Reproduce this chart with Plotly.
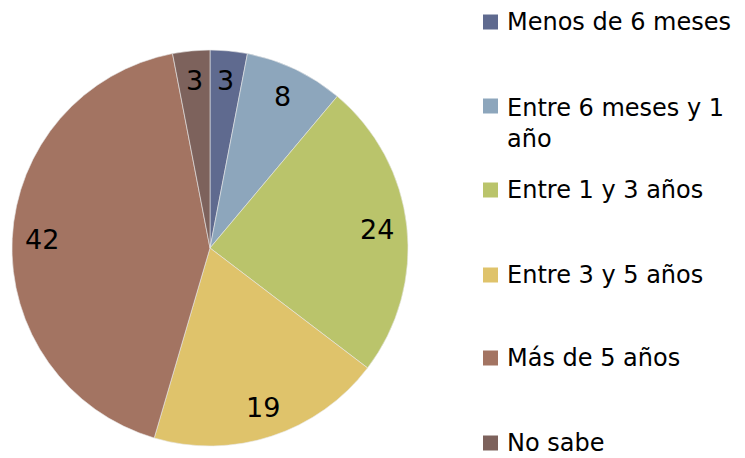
import math
import plotly.graph_objects as go

labels = ["Menos de 6 meses", "Entre 6 meses y 1 año", "Entre 1 y 3 años",
          "Entre 3 y 5 años", "Más de 5 años", "No sabe"]
legend_text = ["Menos de 6 meses", "Entre 6 meses y 1<br>año", "Entre 1 y 3 años",
               "Entre 3 y 5 años", "Más de 5 años", "No sabe"]
values = [3, 8, 24, 19, 42, 3]
colors = ["#5F6A8F", "#8DA6BC", "#BAC46B", "#DFC36B", "#A37462", "#7D625C"]

W, H = 745, 458
cx, cy, R = 210, 248, 198
FONT = "DejaVu Sans, sans-serif"

fig = go.Figure(go.Pie(
    labels=labels, values=values, sort=False, direction="clockwise", rotation=0,
    marker=dict(colors=colors, line=dict(color="#E8E8E8", width=0.6)),
    textinfo="none", hoverinfo="label+value", showlegend=False,
    domain=dict(x=[(cx - R) / W, (cx + R) / W], y=[1 - (cy + R) / H, 1 - (cy - R) / H]),
))

annotations = []
total = sum(values)
cum = 0
for v in values:
    mid = (cum + v / 2) / total * 2 * math.pi
    cum += v
    px = cx + 0.85 * R * math.sin(mid)
    py = cy - 0.85 * R * math.cos(mid)
    annotations.append(dict(x=px / W, y=1 - py / H, xref="paper", yref="paper",
                            xanchor="center", yanchor="middle",
                            text=str(v), showarrow=False,
                            font=dict(size=27, color="#000000", family=FONT)))

shapes = []
legend_y = [22, 106, 190, 275, 358, 443]
for lt, c, ly in zip(legend_text, colors, legend_y):
    shapes.append(dict(type="rect", xref="paper", yref="paper",
                       x0=483 / W, x1=498 / W,
                       y0=1 - (ly + 7.5) / H, y1=1 - (ly - 7.5) / H,
                       fillcolor=c, line=dict(width=0)))
    ty = ly + (17 if "<br>" in lt else 0)
    annotations.append(dict(x=505 / W, y=1 - ty / H, xref="paper", yref="paper",
                            xanchor="left", yanchor="middle", align="left",
                            text=lt, showarrow=False,
                            font=dict(size=24, color="#000000", family=FONT)))

fig.update_layout(
    width=W, height=H, margin=dict(l=0, r=0, t=0, b=0),
    paper_bgcolor="white", plot_bgcolor="white",
    annotations=annotations, shapes=shapes,
)
fig.write_html("out.html", config={"displayModeBar": False},
               post_script="document.body.style.margin='0';document.body.style.overflow='hidden';")
